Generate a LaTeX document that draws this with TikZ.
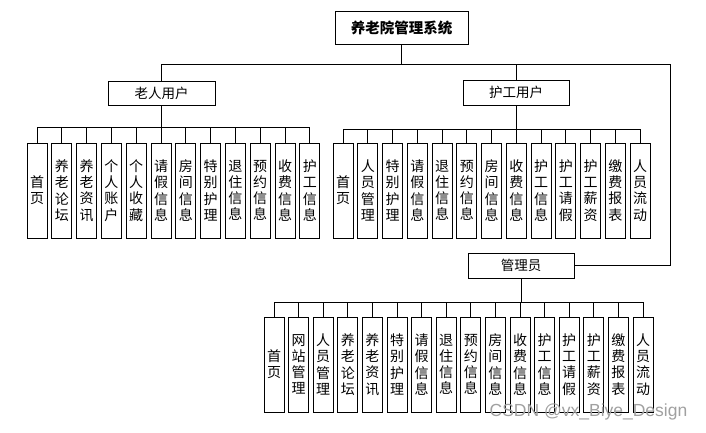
\documentclass[tikz,border=0pt]{standalone}
\usepackage{fontspec}
\setmainfont{Noto Sans CJK SC}
\newfontfamily\markfont{Liberation Sans}
\definecolor{ink}{HTML}{000000}
\definecolor{wmgray}{HTML}{A0A0A0}

\begin{document}
\begin{tikzpicture}[x=1pt,y=-1pt,line width=0.9pt,draw=ink,text=ink,
  box/.style={draw,inner sep=0pt,font=\fontsize{13.5}{15}\selectfont},
  leaf/.style={box,minimum width=20pt,minimum height=95pt,align=center,
    font=\fontsize{14}{16.2}\selectfont}]
  \useasboundingbox (0,0) rectangle (706,432);
  \node[box,minimum width=133pt,minimum height=33pt,
        font=\fontsize{14.5}{16}\selectfont\bfseries] (root) at (401.5,27.5)
    {养老院管理系统};
  \node[box,minimum width=107pt,minimum height=24pt] (elder) at (161.5,93) {老人用户};
  \node[box,minimum width=106pt,minimum height=25pt] (nurse) at (516,92.5) {护工用户};
  \node[box,minimum width=106pt,minimum height=25pt] (admin) at (521,265.5) {管理员};
  \draw (root.south) -- +(0,20) -| (elder.north);
  \draw (root.south) -- +(0,20) -| (nurse.north);
  \draw (root.south) -- +(0,20) -| ([xshift=96pt]admin.east) -- (admin.east);
  \foreach \t [count=\i] in {首\\页,养\\老\\论\\坛,养\\老\\资\\讯,个\\人\\账\\户,
      个\\人\\收\\藏,请\\假\\信\\息,房\\间\\信\\息,特\\别\\护\\理,
      退\\住\\信\\息,预\\约\\信\\息,收\\费\\信\\息,护\\工\\信\\息}
    \node[leaf] (e\i) at ({37+24.8*(\i-1)},190.5) {\t};
  \foreach \t [count=\i] in {首\\页,人\\员\\管\\理,特\\别\\护\\理,请\\假\\信\\息,
      退\\住\\信\\息,预\\约\\信\\息,房\\间\\信\\息,收\\费\\信\\息,
      护\\工\\信\\息,护\\工\\请\\假,护\\工\\薪\\资,缴\\费\\报\\表,人\\员\\流\\动}
    \node[leaf] (n\i) at ({343+24.75*(\i-1)},190.5) {\t};
  \foreach \t [count=\i] in {首\\页,网\\站\\管\\理,人\\员\\管\\理,养\\老\\论\\坛,
      养\\老\\资\\讯,特\\别\\护\\理,请\\假\\信\\息,退\\住\\信\\息,
      预\\约\\信\\息,房\\间\\信\\息,收\\费\\信\\息,护\\工\\信\\息,
      护\\工\\请\\假,护\\工\\薪\\资,缴\\费\\报\\表,人\\员\\流\\动}
    \node[leaf] (a\i) at ({274+24.6*(\i-1)},364.5) {\t};
  \foreach \i in {1,...,12}
    \draw (elder.south) -- +(0,22) -| (e\i.north);
  \foreach \i in {1,...,13}
    \draw (nurse.south) -- +(0,24) -| (n\i.north);
  \foreach \i in {1,...,16}
    \draw (admin.south) -- +(0,24) -| (a\i.north);
  \node[font=\markfont\fontsize{17.5}{17.5}\selectfont,text=wmgray,inner sep=0pt]
    (watermark) at (588.5,412) {CSDN @vx\_Biye\_Design};
\end{tikzpicture}
\end{document}
